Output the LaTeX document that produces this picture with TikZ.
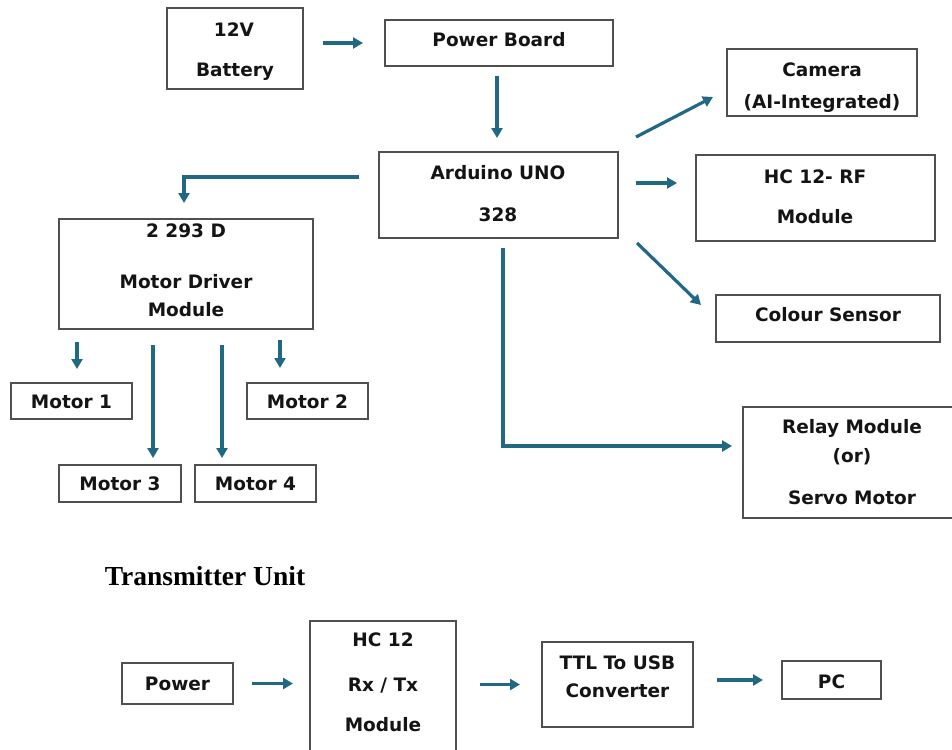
\documentclass[tikz,border=0pt]{standalone}
\usepackage{fontspec}
\setmainfont{DejaVu Sans}
\newfontfamily\serifbold{Liberation Serif}
\usetikzlibrary{arrows.meta,calc}
\definecolor{arrowc}{RGB}{33,104,133}
\definecolor{boxc}{RGB}{80,80,80}
\definecolor{txtc}{RGB}{20,20,20}
\tikzset{
  blk/.style={draw=boxc, line width=1.6pt, inner sep=0pt, outer sep=0pt, fill=white},
  lbl/.style={inner sep=0pt, text height=13.5pt, text depth=0pt, anchor=center,
     font=\fontsize{18.5}{20}\selectfont\bfseries, text=txtc},
  arr/.style={draw=arrowc, line width=3.2pt, -{Triangle[length=10pt,width=11pt]}},
}
\newcommand{\bx}[5]{\node[blk, minimum width=#4pt, minimum height=#5pt] (#1) at (#2,#3) {};}
\begin{document}
\begin{tikzpicture}[x=1pt,y=-1pt]
\useasboundingbox (0,0) rectangle (952,749);
\fill[white] (0,0) rectangle (952,749);
% boxes
\bx{batt}{235}{48.5}{136}{81}
\bx{pwr}{499}{43}{228}{46}
\bx{ard}{498.5}{195}{239}{86}
\bx{cam}{822}{82.5}{190}{67}
\bx{hc}{815.5}{198}{239}{86}
\bx{col}{828}{318.5}{224}{47}
\bx{relay}{852}{462.5}{218}{111}
\bx{drv}{186}{274}{254}{110}
\bx{mone}{71.5}{401}{121}{36}
\bx{mtwo}{307.5}{401}{121}{36}
\bx{mthree}{120}{483.5}{122}{37}
\bx{mfour}{255.5}{483.5}{121}{37}
\bx{tpow}{177.5}{683.5}{111}{41}
\bx{thc}{383}{700.5}{146}{159}
\bx{tttl}{617.5}{684.5}{151}{85}
\bx{tpc}{831.5}{680}{99}{38}
% texts
\node[lbl] (battA) at (234,30) {12V};
\node[lbl] (battB) at (235,70) {Battery};
\node[lbl] (pwrA) at (499,40) {Power Board};
\node[lbl] (ardA) at (498,173) {Arduino UNO};
\node[lbl] (ardB) at (498,215) {328};
\node[lbl] (camA) at (822,70) {Camera};
\node[lbl] (camB) at (822,102) {(AI-Integrated)};
\node[lbl] (hcA) at (815,177) {HC 12- RF};
\node[lbl] (hcB) at (815,217) {Module};
\node[lbl] (colA) at (828,315) {Colour Sensor};
\node[lbl] (relA) at (852,427) {Relay Module};
\node[lbl] (relB) at (852,456) {(or)};
\node[lbl] (relC) at (852,498) {Servo Motor};
\node[lbl] (drvA) at (186,231) {2 293 D};
\node[lbl] (drvB) at (186,282) {Motor Driver};
\node[lbl] (drvC) at (186,310) {Module};
\node[lbl] (moneA) at (71.5,402) {Motor 1};
\node[lbl] (mtwoA) at (307.5,402) {Motor 2};
\node[lbl] (mthreeA) at (120,484) {Motor 3};
\node[lbl] (mfourA) at (255.5,484) {Motor 4};
\node[lbl] (tpowA) at (177.5,684) {Power};
\node[lbl] (thcA) at (383,640) {HC 12};
\node[lbl] (thcB) at (383,685) {Rx / Tx};
\node[lbl] (thcC) at (383,725) {Module};
\node[lbl] (tttlA) at (617.5,663) {TTL To USB};
\node[lbl] (tttlB) at (617.5,691) {Converter};
\node[lbl] (tpcA) at (831.5,682) {PC};
\node[inner sep=0pt, anchor=center, text=black, font=\serifbold\fontsize{27.5}{29}\selectfont\bfseries] (title) at (205,576) {Transmitter Unit};
% arrows
\draw[arr, shorten <=20pt, shorten >=22pt] (batt.east |- pwr.west) -- (pwr.west);
\draw[arr, shorten <=10pt, shorten >=14pt] ($(pwr.south)+(-2,0)$) -- ($(ard.north)+(-1.5,0)$);
\draw[arr, shorten >=16pt] ($(ard.west)+(-20,-18)$) -| ($(drv.north)+(-2,0)$);
\draw[arr] ($(ard.north east)+(18,-15)$) -- ($(cam.west)+(-14,14.5)$);
\draw[arr] ($(ard.east)+(18,-12)$) -- ($(hc.west)+(-19,-15)$);
\draw[arr] ($(ard.south east)+(19,5)$) -- ($(col.north west)+(-15,10)$);
\draw[arr] ($(ard.south)+(4.5,10)$) |- ($(relay.west)+(-11,-16.5)$);
\draw[arr, shorten <=13pt, shorten >=14pt] ($(mone.north |- drv.south)+(5.5,0)$) -- ($(mone.north)+(5.5,0)$);
\draw[arr, shorten <=11pt, shorten >=15pt] ($(mtwo.north |- drv.south)+(-27.5,0)$) -- ($(mtwo.north)+(-27.5,0)$);
\draw[arr, shorten <=16pt, shorten >=7pt] ($(mthree.north |- drv.south)+(33,0)$) -- ($(mthree.north)+(33,0)$);
\draw[arr, shorten <=16pt, shorten >=7pt] ($(mfour.north |- drv.south)+(-33.5,0)$) -- ($(mfour.north)+(-33.5,0)$);
\draw[arr, shorten <=19pt, shorten >=17pt] (tpow.east) -- (tpow.east -| thc.west);
\draw[arr, shorten <=24pt, shorten >=22pt] (tttl.west -| thc.east) -- (tttl.west);
\draw[arr, shorten <=24pt, shorten >=19pt] (tpc.west -| tttl.east) -- (tpc.west);
\end{tikzpicture}
\end{document}
